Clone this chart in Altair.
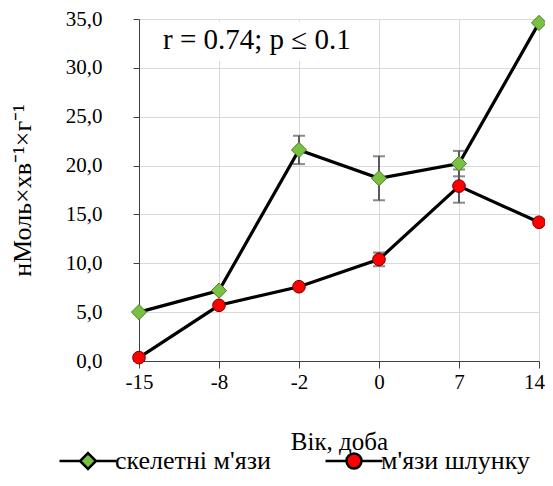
import altair as alt
import pandas as pd

days = ["-15", "-8", "-2", "0", "7", "14"]
skeletal = [5.0, 7.2, 21.6, 18.7, 20.2, 34.6]
skeletal_err = [0.0, 0.0, 1.45, 2.25, 1.3, 0.0]
stomach = [0.35, 5.7, 7.6, 10.4, 17.9, 14.2]
stomach_err = [0.0, 0.0, 0.0, 0.7, 1.7, 0.0]
series_names = ["скелетні м'язи", "м'язи шлунку"]
y_ticks = [0, 5, 10, 15, 20, 25, 30, 35]
annotation = "r = 0.74; p ≤ 0.1"

rows = []
for d, v, e in zip(days, skeletal, skeletal_err):
    rows.append({"day": d, "value": v, "err": e, "series": series_names[0], "sid": "a"})
for d, v, e in zip(days, stomach, stomach_err):
    rows.append({"day": d, "value": v, "err": e, "series": series_names[1], "sid": "b"})
df = pd.DataFrame(rows)
df["lo"] = df["value"] - df["err"]
df["hi"] = df["value"] + df["err"]

FONT = "Liberation Serif, Times New Roman, serif"
GREEN = "#7ac143"
RED = "#ff0000"

x_enc = alt.X(
    "day:O", sort=days,
    scale=alt.Scale(type="point", padding=0),
    axis=alt.Axis(
        title="Вік, доба", labelAngle=0, grid=True, gridColor="#d9d9d9",
        tickSize=7, labelPadding=3, titlePadding=37,
        labelOffset={"condition": {"test": "datum.value === '14'", "value": -5}, "value": 0},
        labelFontSize=21, titleFontSize=25, labelFont=FONT, titleFont=FONT,
        labelColor="black", titleColor="black", titleFontWeight="normal",
        domainColor="#404040", tickColor="#404040",
    ),
)
x_s = alt.X("day:O", sort=days)
y_enc = alt.Y(
    "value:Q",
    scale=alt.Scale(domain=[0, 35], nice=False, zero=True),
    axis=alt.Axis(
        title="нМоль×хв⁻¹×г⁻¹", values=y_ticks, grid=True, gridColor="#d9d9d9",
        labelExpr="replace(format(datum.value, '.1f'), '.', ',')",
        tickSize=6, labelPadding=31, titlePadding=30,
        labelFontSize=21, titleFontSize=26, labelFont=FONT, titleFont=FONT,
        labelColor="black", titleColor="black", titleFontWeight="normal",
        domainColor="#404040", tickColor="#404040",
    ),
)

base = alt.Chart(df)
one = "datum.day == '-15' && datum.sid == 'a'"

box = base.mark_rect(color="white").encode(
    x=alt.value(11), x2=alt.value(226), y=alt.value(3), y2=alt.value(42)
).transform_filter(one)

note = base.mark_text(
    text=annotation, font=FONT, fontSize=29, align="left", baseline="middle", color="black"
).encode(x=alt.value(24), y=alt.value(21)).transform_filter(one)

lines = base.mark_line(color="black", strokeWidth=3.2).encode(
    x=x_enc, y=y_enc, detail="sid:N"
)

err = base.transform_filter("datum.err > 0")
err_rule = err.mark_rule(color="#595959", strokeWidth=2).encode(
    x=x_s, y="lo:Q", y2="hi:Q"
)
err_lo = err.mark_tick(color="#595959", thickness=2, size=12).encode(x=x_s, y="lo:Q")
err_hi = err.mark_tick(color="#595959", thickness=2, size=12).encode(x=x_s, y="hi:Q")

pts_g = base.mark_point(
    shape="diamond", filled=True, fill=GREEN, stroke="#4a7a25", strokeWidth=1,
    size=230, opacity=1
).encode(x=x_s, y="value:Q").transform_filter("datum.sid == 'a'")
pts_r = base.mark_point(
    shape="circle", filled=True, fill=RED, stroke="#7a0000", strokeWidth=1,
    size=160, opacity=1
).encode(x=x_s, y="value:Q").transform_filter("datum.sid == 'b'")

diamond_path = "M-4.07,0H-1.14M1.14,0H4.07M0,-1.14L1.14,0L0,1.14L-1.14,0Z"
circle_path = ("M-4.07,0H-1.07M1.07,0H4.07M1.07,0A1.07,1.07,0,1,1,-1.07,0"
               "A1.07,1.07,0,1,1,1.07,0Z")

legend_layer = base.mark_point(
    filled=True, stroke="black", strokeWidth=2.5, opacity=1
).encode(
    x=x_s, y="value:Q",
    fill=alt.Fill("series:N", sort=series_names,
                  scale=alt.Scale(domain=series_names, range=[GREEN, RED]),
                  legend=alt.Legend(
                      title=None, orient="none", legendX=-64, legendY=429,
                      direction="horizontal", columnPadding=49, columns=2,
                      labelFont=FONT, labelFontSize=26, labelColor="black",
                      labelOffset=14, labelLimit=400, symbolSize=196, symbolOpacity=1,
                      symbolStrokeColor="black", symbolStrokeWidth=2.5,
                      padding=0,
                  )),
    shape=alt.Shape("series:N", sort=series_names,
                    scale=alt.Scale(domain=series_names, range=[diamond_path, circle_path])),
).transform_filter("datum.value < -1000")

chart = alt.layer(
    lines, err_rule, err_lo, err_hi, pts_r, pts_g, box, note, legend_layer
).properties(
    width=400, height=342,
    autosize=alt.AutoSizeParams(type="none"),
    padding={"left": 131, "top": 11, "right": 6, "bottom": 113},
).configure_view(stroke=None)

chart.save("out.html", embed_options={"renderer": "svg", "actions": False})
